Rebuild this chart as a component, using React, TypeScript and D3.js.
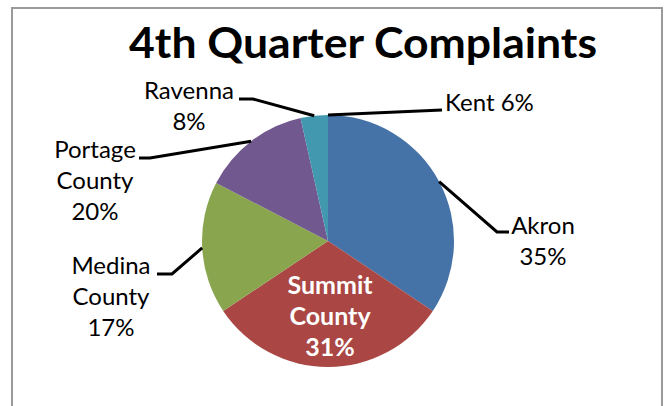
import React from "react";
import * as d3 from "d3";

const categories = ["Akron", "Summit County", "Medina County", "Portage County", "Ravenna", "Kent"];
const values = [34.4, 31.3, 17.0, 13.9, 3.5, 0];
const labelTexts = [
  ["Akron", "35%"],
  ["Summit", "County", "31%"],
  ["Medina", "County", "17%"],
  ["Portage", "County", "20%"],
  ["Ravenna", "8%"],
  ["Kent 6%"],
];
const colors = ["#4572A7", "#AA4643", "#89A54E", "#71588F", "#4198AF", "#DB843D"];
const title = "4th Quarter Complaints";

// label layout: text anchor position (center x, first baseline), elbow points
const W = 665, H = 406;
const cx = 328, cy = 241, R = 126;
const lineH = 31;
const layout = [
  { x: 543, y: 234, anchor: "middle", elbow: [[497, 232], [509, 232]], inside: false },
  { x: 330, y: 294, anchor: "middle", elbow: null, inside: true },
  { x: 111, y: 274, anchor: "middle", elbow: [[172, 274], [157, 274]], inside: false },
  { x: 95, y: 158, anchor: "middle", elbow: [[150, 158], [139, 158]], inside: false },
  { x: 189, y: 99, anchor: "middle", elbow: [[253, 99], [239, 99]], inside: false },
  { x: 445, y: 111, anchor: "start", elbow: [[442, 110]], inside: false },
];

export default function App() {
  const pie = d3.pie<number>().sort(null).value((d) => d).startAngle(0).endAngle(2 * Math.PI);
  const arcs = pie(values);
  const arc = d3.arc<d3.PieArcDatum<number>>().innerRadius(0).outerRadius(R);
  const font = "Lato, 'Open Sans', sans-serif";

  return (
    <svg width={W} height={H} style={{ position: "absolute", left: 0, top: 0, background: "#fff" }}>
      <rect x={12} y={8} width={650} height={420} fill="#fff" stroke="#9a9a9a" strokeWidth={2} />
      <text x={129} y={58} fontFamily={font} fontWeight="bold" fontSize={42} fill="#000"
        textLength={468} lengthAdjust="spacingAndGlyphs">{title}</text>
      <g transform={`translate(${cx},${cy})`}>
        {arcs.map((a, i) => (
          <path key={categories[i]} d={arc(a) || ""} fill={colors[i]} />
        ))}
      </g>
      {arcs.map((a, i) => {
        const L = layout[i];
        if (!L.elbow) return null;
        const mid = (a.startAngle + a.endAngle) / 2;
        const ax = cx + R * Math.sin(mid);
        const ay = cy - R * Math.cos(mid);
        const pts = [[ax, ay], ...L.elbow];
        return (
          <path key={"l" + i} d={d3.line()(pts as [number, number][]) || ""} fill="none" stroke="#000" strokeWidth={3} />
        );
      })}
      {labelTexts.map((lines, i) => {
        const L = layout[i];
        return (
          <text key={"t" + i} x={L.x} y={L.y} textAnchor={L.anchor} fontFamily={font}
            fontSize={L.inside ? 25 : 24} fontWeight={L.inside ? "bold" : "normal"} fill={L.inside ? "#fff" : "#000"}>
            {lines.map((ln, j) => (
              <tspan key={j} x={L.x} y={L.y + j * lineH}>{ln}</tspan>
            ))}
          </text>
        );
      })}
    </svg>
  );
}
